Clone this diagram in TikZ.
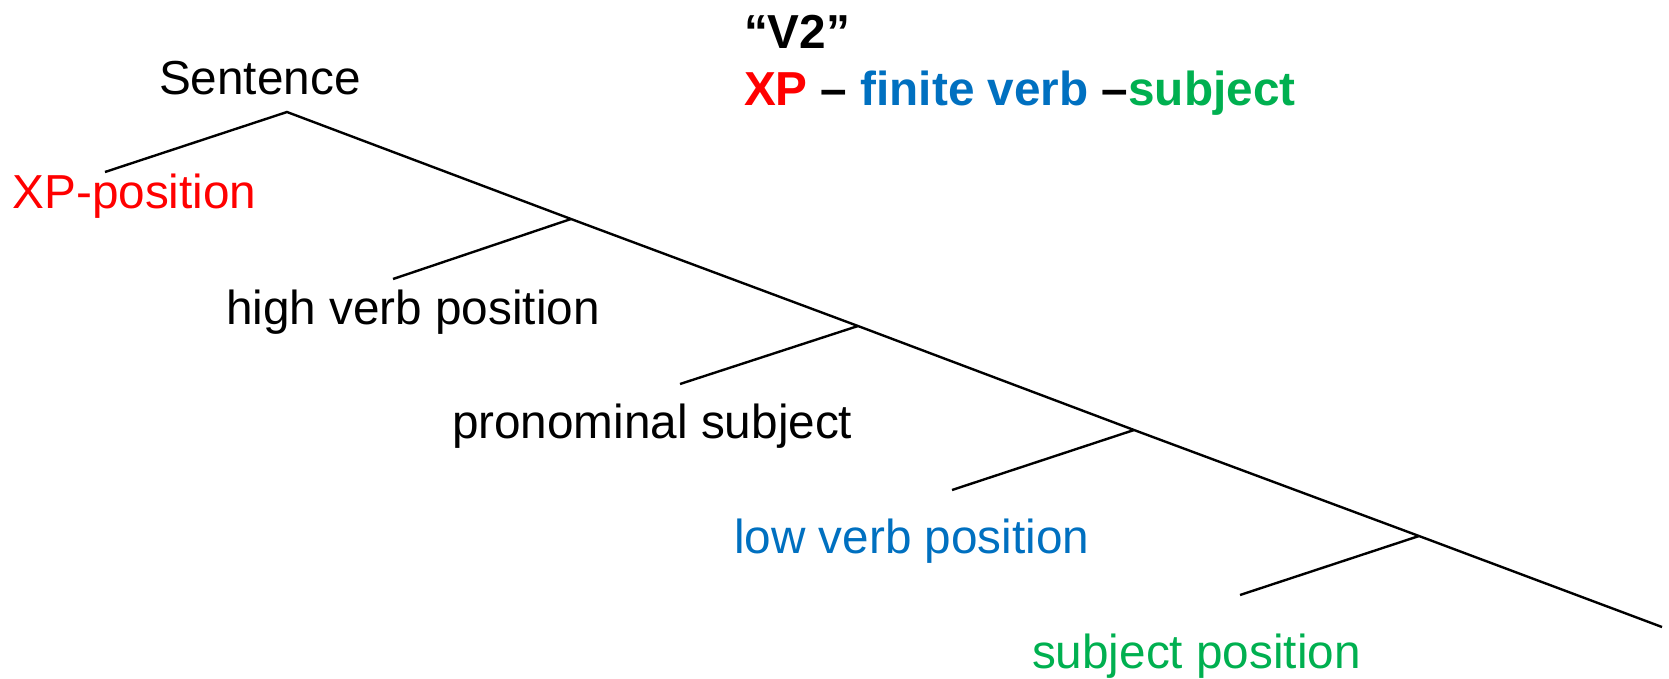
\documentclass[tikz,border=0pt]{standalone}
\usepackage{fontspec}
\setmainfont{Liberation Sans}
\definecolor{xpred}{RGB}{255,0,0}
\definecolor{vblue}{RGB}{0,112,192}
\definecolor{sgreen}{RGB}{0,176,80}
\begin{document}
\begin{tikzpicture}[x=1pt,y=-1pt,
  lbl/.style={anchor=base west,inner sep=0pt,outer sep=0pt,font=\fontsize{47.7}{57}\selectfont},
  hdr/.style={lbl,font=\fontsize{47.7}{57}\selectfont\bfseries},
  branch/.style={line width=2.4pt,line cap=butt}]
\useasboundingbox[fill=white] (0,0) rectangle (1669,678);
% tree points
\coordinate (S) at (287,112);
\coordinate (xpE) at (105,172);
\coordinate (n1) at (571,219);
\coordinate (b1) at (393,279);
\coordinate (n2) at (858,326);
\coordinate (b2) at (680,384);
\coordinate (n3) at (1134,430);
\coordinate (b3) at (952,490);
\coordinate (n4) at (1419,536);
\coordinate (b4) at (1240,595);
\coordinate (E) at (1662,627);
% lines
\draw[branch] (xpE) -- (S) -- (n1) -- (n2) -- (n3) -- (n4) -- (E);
\draw[branch] (n1) -- (b1);
\draw[branch] (n2) -- (b2);
\draw[branch] (n3) -- (b3);
\draw[branch] (n4) -- (b4);
% labels
\node[lbl] (tS) at (159,94) {Sentence};
\node[lbl,text=xpred] (tXP) at (12.5,208) {XP-position};
\node[lbl] (tHV) at (226,324) {high verb position};
\node[lbl] (tPS) at (452,438) {pronominal subject};
\node[lbl,text=vblue] (tLV) at (734,553) {low verb position};
\node[lbl,text=sgreen] (tSP) at (1032,668) {subject position};
% header
\node[hdr] (hV2) at (744,48) {“V2”};
\node[hdr] (hLine) at (744,105) {\textcolor{xpred}{XP} – \textcolor{vblue}{finite verb} –\textcolor{sgreen}{subject}};
\end{tikzpicture}
\end{document}
